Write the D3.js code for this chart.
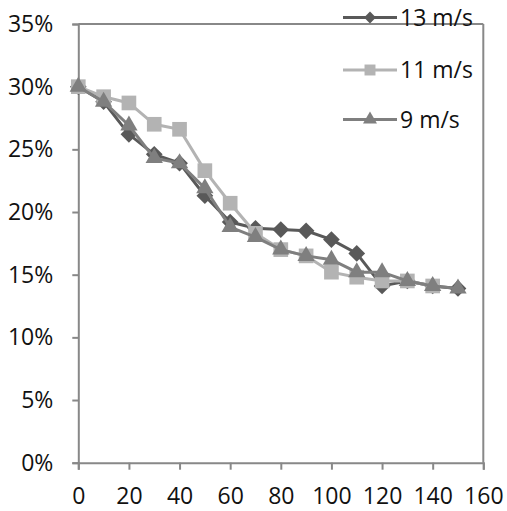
<!DOCTYPE html>
<html>
<head>
<meta charset="utf-8">
<script src="https://cdn.jsdelivr.net/npm/d3@7"></script>
<style>
  html, body { margin: 0; padding: 0; background: #fff; }
  svg { display: block; }
  text { font-family: "Open Sans", "Noto Sans", sans-serif; fill: #111; }
</style>
</head>
<body>
<svg id="chart" width="507" height="511"></svg>
<script>
// Distance (x) and fraction values for each wind speed
const distance = [0, 10, 20, 30, 40, 50, 60, 70, 80, 90, 100, 110, 120, 130, 140, 150];
const speed13 = [0.300, 0.288, 0.262, 0.246, 0.239, 0.213, 0.192, 0.187, 0.186, 0.185, 0.178, 0.167, 0.141, 0.145, 0.141, 0.139];
const speed11 = [0.300, 0.292, 0.287, 0.270, 0.266, 0.233, 0.207, 0.183, 0.170, 0.165, 0.152, 0.148, 0.145, 0.145, 0.141];
const speed9  = [0.300, 0.288, 0.269, 0.243, 0.239, 0.219, 0.188, 0.180, 0.170, 0.165, 0.162, 0.152, 0.152, 0.145, 0.141, 0.139];
const seriesNames = ["13 m/s", "11 m/s", "9 m/s"];
const xTicks = [0, 20, 40, 60, 80, 100, 120, 140, 160];
const yTicks = [0, 0.05, 0.10, 0.15, 0.20, 0.25, 0.30, 0.35];

// Diamond drawn as a square turned 45 degrees
const diamondWide = {
  draw(ctx, size) {
    const r = Math.sqrt(size / 2);
    ctx.moveTo(0, -r); ctx.lineTo(r, 0); ctx.lineTo(0, r); ctx.lineTo(-r, 0); ctx.closePath();
  }
};

const series = [
  { name: seriesNames[0], values: speed13, color: "#595959", symbol: diamondWide, size: 140, legendSize: 70 },
  { name: seriesNames[1], values: speed11, color: "#b3b3b3", symbol: d3.symbolSquare, size: 215, legendSize: 120 },
  { name: seriesNames[2], values: speed9,  color: "#7f7f7f", symbol: d3.symbolTriangle, size: 130, legendSize: 85 }
];

const svg = d3.select("#chart");
const x = d3.scaleLinear().domain([0, 160]).range([78.3, 483.3]);
const y = d3.scaleLinear().domain([0, 0.35]).range([462.7, 24]);
const axisColor = "#888888";

// Plot frame: top and right edges
svg.append("line").attr("x1", x(0)).attr("x2", x(160)).attr("y1", y(0.35)).attr("y2", y(0.35))
  .attr("stroke", axisColor).attr("stroke-width", 2);
svg.append("line").attr("x1", x(160)).attr("x2", x(160)).attr("y1", y(0.35)).attr("y2", y(0))
  .attr("stroke", axisColor).attr("stroke-width", 2);

// Y axis
const yAxis = svg.append("g").attr("transform", `translate(${x(0)},0)`)
  .call(d3.axisLeft(y).tickValues(yTicks).tickSize(6).tickPadding(19).tickFormat(d3.format(".0%")));
// X axis
const xAxis = svg.append("g").attr("transform", `translate(0,${y(0)})`)
  .call(d3.axisBottom(x).tickValues(xTicks).tickSize(7).tickPadding(18).tickFormat(d3.format("d")));

[yAxis, xAxis].forEach(g => {
  g.select(".domain").attr("stroke", axisColor).attr("stroke-width", 2);
  g.selectAll(".tick line").attr("stroke", axisColor).attr("stroke-width", 2);
  g.selectAll(".tick text").attr("font-size", 23).attr("fill", "#111")
    .style("font-family", "'Open Sans', 'Noto Sans', sans-serif");
});

// Series lines and markers
const line = d3.line().x((d, i) => x(distance[i])).y(d => y(d));
series.forEach(s => {
  const g = svg.append("g");
  g.append("path").datum(s.values).attr("d", line)
    .attr("fill", "none").attr("stroke", s.color).attr("stroke-width", 3);
  g.selectAll("path.marker").data(s.values).join("path").attr("class", "marker")
    .attr("d", d3.symbol().type(s.symbol).size(s.size))
    .attr("transform", (d, i) => `translate(${x(distance[i])},${y(d)})`)
    .attr("fill", s.color);
});

// Legend
const legendY = [17.5, 70, 119.5];
series.forEach((s, i) => {
  const g = svg.append("g").attr("transform", `translate(0,${legendY[i]})`);
  g.append("line").attr("x1", 343).attr("x2", 397).attr("y1", 0).attr("y2", 0)
    .attr("stroke", s.color).attr("stroke-width", 3);
  g.append("path").attr("d", d3.symbol().type(s.symbol).size(s.legendSize))
    .attr("transform", "translate(370,0)").attr("fill", s.color);
  g.append("text").attr("x", 400).attr("y", 0).attr("dy", "0.35em")
    .attr("font-size", 23).text(s.name);
});
</script>
</body>
</html>
